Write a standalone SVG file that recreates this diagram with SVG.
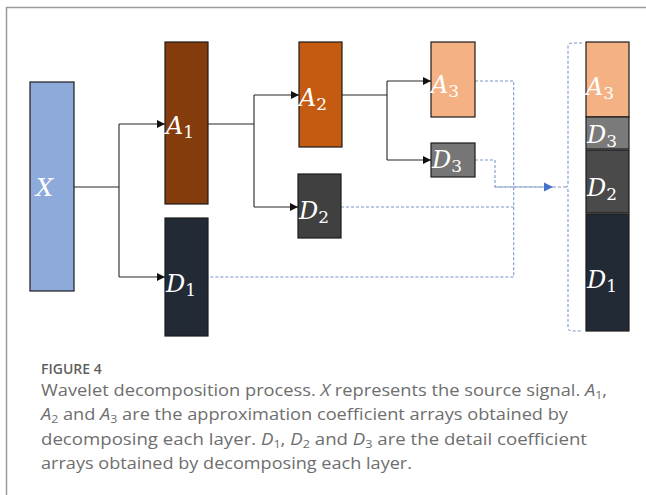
<svg xmlns="http://www.w3.org/2000/svg" width="646" height="495" viewBox="0 0 646 495">
  <style>
    .box { stroke: #1c1c1c; stroke-width: 1.2; }
    .wire { fill: none; stroke: #262626; stroke-width: 1.1; }
    .dash { fill: none; stroke: #7b96c8; stroke-width: 1.1; stroke-dasharray: 3 2; }
    .lbl { font-family: "DejaVu Serif", "Liberation Serif", serif; font-style: italic; font-size: 24px; fill: #ffffff; }
    .sub { font-style: normal; font-size: 17px; }
    .cap { font-family: "Open Sans", "Liberation Sans", sans-serif; font-size: 17px; fill: #6e6e6e; }
    .capi { font-style: italic; }
    .capsub { font-size: 11.5px; }
    .fig { font-family: "Open Sans", "Liberation Sans", sans-serif; font-size: 14px; font-weight: 600; fill: #5f5f5f; }
  </style>
  <defs>
    <marker id="arrow" markerUnits="userSpaceOnUse" markerWidth="10" markerHeight="10" refX="9" refY="5" orient="auto">
      <path d="M1,1 L9,5 L1,9 Z" fill="#111111"/>
    </marker>
    <marker id="arrow-blue" markerUnits="userSpaceOnUse" markerWidth="12" markerHeight="12" refX="10" refY="6" orient="auto">
      <path d="M1,1.5 L10,6 L1,10.5 Z" fill="#4472c4"/>
    </marker>
  </defs>

  <rect width="646" height="495" fill="#ffffff"/>
  <!-- frame -->
  <path d="M6.5,495 V7.5 H646" fill="none" stroke="#9a9a9a" stroke-width="1.5"/>

  <!-- connectors -->
  <g id="connectors">
    <path class="wire" d="M74,187 H119 M119,124 V277"/>
    <path class="wire" d="M119,124 H165" marker-end="url(#arrow)"/>
    <path class="wire" d="M119,277 H165" marker-end="url(#arrow)"/>
    <path class="wire" d="M208,124 H254 M254,95 V207"/>
    <path class="wire" d="M254,95 H299" marker-end="url(#arrow)"/>
    <path class="wire" d="M254,207 H298" marker-end="url(#arrow)"/>
    <path class="wire" d="M342,95 H387 M387,81 V160"/>
    <path class="wire" d="M387,81 H431" marker-end="url(#arrow)"/>
    <path class="wire" d="M387,160 H431" marker-end="url(#arrow)"/>

    <path class="dash" d="M475,81 H513.7 V277 H208"/>
    <path class="dash" d="M341,207 H513.7"/>
    <path class="dash" d="M475,160 H495 V187 H552"/>
    <path class="dash" d="M495,187 H553" marker-end="url(#arrow-blue)"/>
    <path class="dash" d="M553,187 H566"/>
    <!-- brace -->
    <path class="dash" d="M582,43 H572 Q568,43 568,47 V183 Q568,187 566,187 Q568,187 568,191 V327 Q568,331 572,331 H582"/>
  </g>

  <g id="node-x">
    <rect class="box" x="30" y="82" width="44" height="209" fill="#8eaadb"/>
    <text class="lbl" x="36" y="196">X</text>
  </g>
  <g id="node-a1">
    <rect class="box" x="165" y="42" width="43" height="162" fill="#843c0c"/>
    <text class="lbl" x="166" y="134">A<tspan class="sub" dy="4">1</tspan></text>
  </g>
  <g id="node-d1">
    <rect class="box" x="165" y="218" width="43" height="118" fill="#222a35"/>
    <text class="lbl" x="166" y="292">D<tspan class="sub" dy="4">1</tspan></text>
  </g>
  <g id="node-a2">
    <rect class="box" x="299" y="42" width="43" height="105" fill="#c55a11"/>
    <text class="lbl" x="299" y="106">A<tspan class="sub" dy="4">2</tspan></text>
  </g>
  <g id="node-d2">
    <rect class="box" x="298" y="174" width="43" height="64" fill="#404040"/>
    <text class="lbl" x="299" y="219">D<tspan class="sub" dy="4">2</tspan></text>
  </g>
  <g id="node-a3">
    <rect class="box" x="431" y="42" width="44" height="75" fill="#f4b183"/>
    <text class="lbl" x="431" y="93">A<tspan class="sub" dy="4">3</tspan></text>
  </g>
  <g id="node-d3">
    <rect class="box" x="431" y="143" width="44" height="34" fill="#767676"/>
    <text class="lbl" x="432" y="168">D<tspan class="sub" dy="4">3</tspan></text>
  </g>

  <g id="node-stack">
    <rect class="box" x="586" y="42" width="43" height="75" fill="#f4b183"/>
    <rect class="box" x="586" y="117" width="43" height="32" fill="#7a7a7a"/>
    <rect class="box" x="586" y="150" width="43" height="63" fill="#4a4a4a"/>
    <rect class="box" x="586" y="214" width="43" height="117" fill="#222a35"/>
    <text class="lbl" x="586" y="95">A<tspan class="sub" dy="4">3</tspan></text>
    <text class="lbl" x="587" y="143">D<tspan class="sub" dy="4">3</tspan></text>
    <text class="lbl" x="587" y="196">D<tspan class="sub" dy="4">2</tspan></text>
    <text class="lbl" x="587" y="288">D<tspan class="sub" dy="4">1</tspan></text>
  </g>

  <!-- caption -->
  <g id="caption">
    <text class="fig" x="41" y="374">FIGURE 4</text>
    <text class="cap" x="41" y="396" textLength="566" lengthAdjust="spacingAndGlyphs">Wavelet decomposition process. <tspan class="capi">X</tspan> represents the source signal. <tspan class="capi">A</tspan><tspan class="capsub" dy="3">1</tspan><tspan dy="-3">,</tspan></text>
    <text class="cap" x="41" y="420" textLength="527" lengthAdjust="spacingAndGlyphs"><tspan class="capi">A</tspan><tspan class="capsub" dy="3">2</tspan><tspan dy="-3"> and </tspan><tspan class="capi">A</tspan><tspan class="capsub" dy="3">3</tspan><tspan dy="-3"> are the approximation coefficient arrays obtained by</tspan></text>
    <text class="cap" x="41" y="445" textLength="546" lengthAdjust="spacingAndGlyphs">decomposing each layer. <tspan class="capi">D</tspan><tspan class="capsub" dy="3">1</tspan><tspan dy="-3">, </tspan><tspan class="capi">D</tspan><tspan class="capsub" dy="3">2</tspan><tspan dy="-3"> and </tspan><tspan class="capi">D</tspan><tspan class="capsub" dy="3">3</tspan><tspan dy="-3"> are the detail coefficient</tspan></text>
    <text class="cap" x="41" y="469" textLength="371" lengthAdjust="spacingAndGlyphs">arrays obtained by decomposing each layer.</text>
  </g>
</svg>
